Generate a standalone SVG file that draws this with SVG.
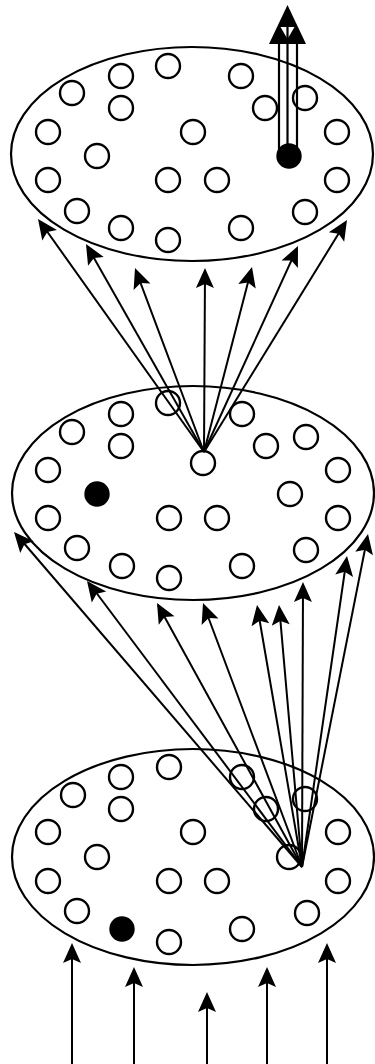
<svg xmlns="http://www.w3.org/2000/svg" xmlns:xlink="http://www.w3.org/1999/xlink" width="375" height="1064" viewBox="0 0 375 1064">
<style>
.plane{fill:none;stroke:#000;stroke-width:2.2}
.c{fill:none;stroke:#000;stroke-width:2.4}
.f{fill:#000;stroke:#000;stroke-width:2.4}
.ln{stroke:#000;stroke-width:2;fill:none}
.sh{stroke:#000;stroke-width:2.2;fill:none}
.hd{fill:#000}
</style>
<defs>
<path id="head" d="M0,0 L-20,-9 L-16,0 L-20,9 z"/>
</defs>
<rect width="375" height="1064" fill="#fff"/>
<g id="layer-top">
<ellipse class="plane" cx="192" cy="154" rx="181" ry="107"/>
<circle class="c" cx="168" cy="66" r="12"/>
<circle class="c" cx="121" cy="76" r="12"/>
<circle class="c" cx="72" cy="93" r="12"/>
<circle class="c" cx="121" cy="108" r="12"/>
<circle class="c" cx="48" cy="132" r="12"/>
<circle class="c" cx="97" cy="156" r="12"/>
<circle class="c" cx="48" cy="180" r="12"/>
<circle class="c" cx="77" cy="211" r="12"/>
<circle class="c" cx="121" cy="228" r="12"/>
<circle class="c" cx="168" cy="240" r="12"/>
<circle class="c" cx="193" cy="132" r="12"/>
<circle class="c" cx="168" cy="180" r="12"/>
<circle class="c" cx="217" cy="180" r="12"/>
<circle class="c" cx="241" cy="76" r="12"/>
<circle class="c" cx="265" cy="108" r="12"/>
<circle class="c" cx="305" cy="98" r="12"/>
<circle class="c" cx="337" cy="132" r="12"/>
<circle class="c" cx="337" cy="180" r="12"/>
<circle class="c" cx="305" cy="212" r="12"/>
<circle class="c" cx="241" cy="228" r="12"/>
<circle class="f" cx="289" cy="156" r="11.5"/>
</g>
<g id="layer-middle">
<ellipse class="plane" cx="193" cy="493" rx="181" ry="107"/>
<circle class="c" cx="168" cy="403" r="12"/>
<circle class="c" cx="121" cy="414" r="12"/>
<circle class="c" cx="72" cy="432" r="12"/>
<circle class="c" cx="121" cy="446" r="12"/>
<circle class="c" cx="48" cy="470" r="12"/>
<circle class="f" cx="97" cy="494" r="11.5"/>
<circle class="c" cx="48" cy="518" r="12"/>
<circle class="c" cx="77" cy="548" r="12"/>
<circle class="c" cx="122" cy="566" r="12"/>
<circle class="c" cx="169" cy="578" r="12"/>
<circle class="c" cx="203" cy="463" r="12"/>
<circle class="c" cx="169" cy="518" r="12"/>
<circle class="c" cx="217" cy="518" r="12"/>
<circle class="c" cx="242" cy="414" r="12"/>
<circle class="c" cx="266" cy="446" r="12"/>
<circle class="c" cx="306" cy="437" r="12"/>
<circle class="c" cx="338" cy="470" r="12"/>
<circle class="c" cx="290" cy="494" r="12"/>
<circle class="c" cx="338" cy="518" r="12"/>
<circle class="c" cx="306" cy="550" r="12"/>
<circle class="c" cx="242" cy="566" r="12"/>
</g>
<g id="layer-bottom">
<ellipse class="plane" cx="193" cy="857" rx="181" ry="108"/>
<circle class="c" cx="169" cy="767" r="12"/>
<circle class="c" cx="121" cy="777" r="12"/>
<circle class="c" cx="73" cy="795" r="12"/>
<circle class="c" cx="121" cy="809" r="12"/>
<circle class="c" cx="48" cy="832" r="12"/>
<circle class="c" cx="97" cy="857" r="12"/>
<circle class="c" cx="48" cy="881" r="12"/>
<circle class="c" cx="77" cy="911" r="12"/>
<circle class="f" cx="122" cy="929" r="11.5"/>
<circle class="c" cx="169" cy="942" r="12"/>
<circle class="c" cx="193" cy="832" r="12"/>
<circle class="c" cx="169" cy="881" r="12"/>
<circle class="c" cx="217" cy="881" r="12"/>
<circle class="c" cx="242" cy="777" r="12"/>
<circle class="c" cx="266" cy="809" r="12"/>
<circle class="c" cx="305" cy="799" r="12"/>
<circle class="c" cx="338" cy="832" r="12"/>
<circle class="c" cx="289" cy="857" r="12"/>
<circle class="c" cx="338" cy="881" r="12"/>
<circle class="c" cx="307" cy="913" r="12"/>
<circle class="c" cx="242" cy="929" r="12"/>
</g>
<g id="connectors">
<g id="input-arrows">
<line class="ln" x1="72" y1="1064" x2="72" y2="946"/>
<line class="ln" x1="134" y1="1064" x2="134" y2="970"/>
<line class="ln" x1="207" y1="1064" x2="207" y2="995"/>
<line class="ln" x1="267" y1="1064" x2="267" y2="970"/>
<line class="ln" x1="327" y1="1064" x2="327" y2="946"/>
<use href="#head" xlink:href="#head" class="hd" transform="translate(72,943) rotate(-90)"/>
<use href="#head" xlink:href="#head" class="hd" transform="translate(134,967) rotate(-90)"/>
<use href="#head" xlink:href="#head" class="hd" transform="translate(207,992) rotate(-90)"/>
<use href="#head" xlink:href="#head" class="hd" transform="translate(267,967) rotate(-90)"/>
<use href="#head" xlink:href="#head" class="hd" transform="translate(327,943) rotate(-90)"/>
</g>
<g id="bottom-to-middle">
<line class="ln" x1="302" y1="867" x2="16" y2="534"/>
<line class="ln" x1="302" y1="867" x2="89" y2="583"/>
<line class="ln" x1="302" y1="867" x2="158" y2="605"/>
<line class="ln" x1="302" y1="867" x2="204" y2="606"/>
<line class="ln" x1="302" y1="867" x2="257.5" y2="608"/>
<line class="ln" x1="302" y1="867" x2="279.3" y2="608"/>
<line class="ln" x1="302" y1="867" x2="303" y2="585"/>
<line class="ln" x1="302" y1="867" x2="346.6" y2="559"/>
<line class="ln" x1="302" y1="867" x2="367.4" y2="537"/>
<use href="#head" xlink:href="#head" class="hd" transform="translate(14,532) rotate(-130.7)"/>
<use href="#head" xlink:href="#head" class="hd" transform="translate(87,581) rotate(-126.9)"/>
<use href="#head" xlink:href="#head" class="hd" transform="translate(157,603) rotate(-118.8)"/>
<use href="#head" xlink:href="#head" class="hd" transform="translate(203,603) rotate(-110.6)"/>
<use href="#head" xlink:href="#head" class="hd" transform="translate(257,605) rotate(-99.75)"/>
<use href="#head" xlink:href="#head" class="hd" transform="translate(279,605) rotate(-95)"/>
<use href="#head" xlink:href="#head" class="hd" transform="translate(303,582) rotate(-89.8)"/>
<use href="#head" xlink:href="#head" class="hd" transform="translate(347,556) rotate(-81.8)"/>
<use href="#head" xlink:href="#head" class="hd" transform="translate(368,534) rotate(-78.8)"/>
</g>
<g id="middle-to-top">
<line class="ln" x1="204" y1="452" x2="40" y2="221.5"/>
<line class="ln" x1="204" y1="452" x2="87.5" y2="246.6"/>
<line class="ln" x1="204" y1="452" x2="136" y2="270.8"/>
<line class="ln" x1="204" y1="452" x2="205" y2="271"/>
<line class="ln" x1="204" y1="452" x2="251.2" y2="269.9"/>
<line class="ln" x1="204" y1="452" x2="296.8" y2="248.7"/>
<line class="ln" x1="204" y1="452" x2="345.4" y2="222.6"/>
<use href="#head" xlink:href="#head" class="hd" transform="translate(38,219) rotate(-125.5)"/>
<use href="#head" xlink:href="#head" class="hd" transform="translate(86,244) rotate(-119.6)"/>
<use href="#head" xlink:href="#head" class="hd" transform="translate(135,268) rotate(-110.6)"/>
<use href="#head" xlink:href="#head" class="hd" transform="translate(205,268) rotate(-89.7)"/>
<use href="#head" xlink:href="#head" class="hd" transform="translate(252,267) rotate(-75.5)"/>
<use href="#head" xlink:href="#head" class="hd" transform="translate(298,246) rotate(-65.5)"/>
<use href="#head" xlink:href="#head" class="hd" transform="translate(347,220) rotate(-58.4)"/>
</g>
<g id="output-arrow">
<line class="sh" x1="279" y1="42" x2="279" y2="162"/>
<line class="sh" x1="297" y1="42" x2="297" y2="162"/>
<polygon points="269,44 287.5,5 306,44" fill="#000"/>
<polygon points="280.5,27 294.5,27 287.5,39" fill="#fff"/>
<line class="sh" x1="287.5" y1="14" x2="287.5" y2="160"/>
</g>
</g>
</svg>
